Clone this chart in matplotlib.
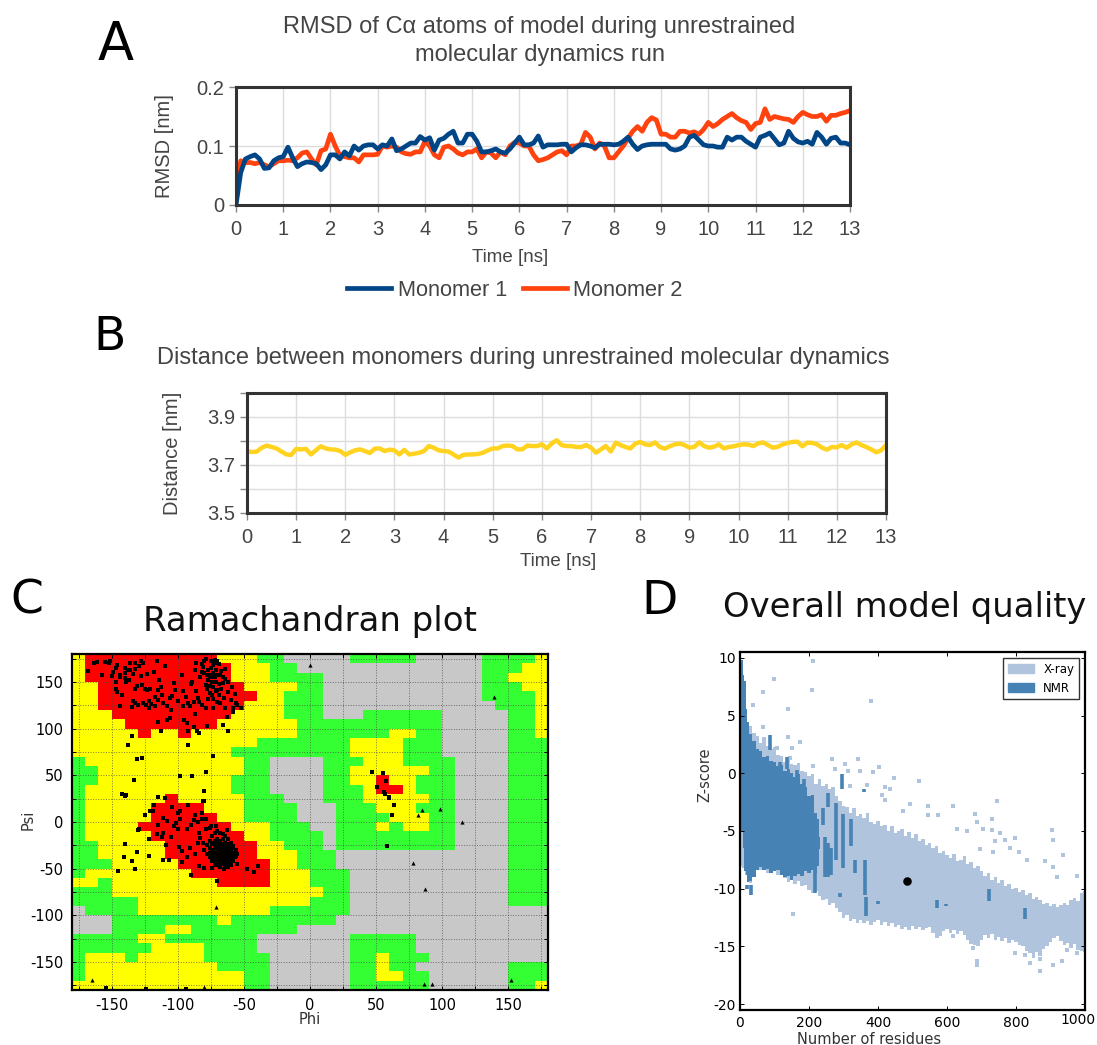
import numpy as np
import matplotlib
matplotlib.use('Agg')
import matplotlib.pyplot as plt
from matplotlib.colors import ListedColormap
from matplotlib.patches import Patch

W, H = 1097, 1045

# panel A, one value every 0.1 ns
monomer1 = [0, .055, .078, .082, .085, .078, .062, .063, .075, .08,
            .082, .098, .08, .065, .07, .073, .072, .07, .06, .068,
            .085, .085, .078, .09, .083, .1, .093, .1, .102, .102,
            .095, .102, .1, .112, .092, .095, .1, .105, .105, .116,
            .11, .114, .093, .11, .113, .12, .125, .105, .105, .12,
            .12, .108, .09, .09, .092, .095, .09, .088, .095, .105,
            .115, .102, .102, .105, .117, .098, .102, .102, .102, .103,
            .103, .09, .097, .102, .102, .1, .097, .103, .103, .103,
            .102, .103, .108, .115, .103, .094, .1, .102, .103, .103,
            .103, .103, .095, .093, .095, .1, .115, .118, .11, .102,
            .1, .1, .098, .098, .115, .11, .115, .115, .108, .103,
            .098, .115, .118, .122, .112, .102, .105, .125, .113, .107,
            .105, .108, .103, .123, .115, .103, .113, .115, .105, .105, .102]
monomer2 = [.02, .075, .072, .072, .07, .072, .068, .065, .07, .075,
            .075, .076, .075, .08, .088, .09, .078, .068, .092, .095,
            .12, .1, .084, .082, .08, .08, .073, .085, .085, .085,
            .086, .1, .098, .1, .098, .09, .087, .086, .09, .09,
            .108, .1, .085, .08, .098, .1, .095, .088, .085, .09,
            .09, .095, .08, .09, .088, .08, .09, .085, .1, .106,
            .105, .1, .1, .085, .075, .077, .08, .085, .09, .092,
            .085, .1, .1, .103, .123, .115, .095, .105, .1, .08,
            .08, .09, .1, .113, .125, .133, .125, .14, .148, .144,
            .12, .12, .115, .115, .125, .125, .122, .124, .12, .128,
            .14, .133, .138, .145, .15, .155, .148, .143, .14, .128,
            .138, .14, .163, .145, .15, .148, .146, .145, .14, .15,
            .157, .153, .15, .15, .153, .142, .152, .152, .155, .157, .16]

# panel B
distance = [3.758, 3.754, 3.756, 3.772, 3.781, 3.775, 3.769, 3.756, 3.744, 3.742,
            3.767, 3.765, 3.767, 3.744, 3.761, 3.778, 3.769, 3.765, 3.764, 3.758,
            3.742, 3.753, 3.761, 3.765, 3.758, 3.75, 3.768, 3.769, 3.758, 3.764,
            3.761, 3.744, 3.763, 3.744, 3.747, 3.751, 3.758, 3.779, 3.772, 3.761,
            3.758, 3.756, 3.744, 3.731, 3.742, 3.744, 3.744, 3.746, 3.751, 3.761,
            3.769, 3.769, 3.779, 3.781, 3.779, 3.765, 3.765, 3.781, 3.779, 3.779,
            3.786, 3.769, 3.79, 3.803, 3.783, 3.779, 3.779, 3.775, 3.775, 3.783,
            3.772, 3.751, 3.765, 3.779, 3.756, 3.793, 3.783, 3.775, 3.769, 3.789,
            3.796, 3.786, 3.783, 3.794, 3.775, 3.768, 3.778, 3.786, 3.789, 3.783,
            3.772, 3.776, 3.794, 3.779, 3.772, 3.776, 3.786, 3.769, 3.775, 3.778,
            3.783, 3.786, 3.785, 3.779, 3.79, 3.794, 3.783, 3.772, 3.776, 3.786,
            3.792, 3.796, 3.797, 3.778, 3.793, 3.792, 3.786, 3.772, 3.764, 3.775,
            3.774, 3.783, 3.772, 3.786, 3.794, 3.783, 3.775, 3.765, 3.753, 3.761, 3.783]

# panel C, regions top row first, run lengths of 10 degree cells
rama_rows = [
    "y1 r10 y3 g2 G5 g5 G5 g4 y1",
    "y1 r11 y3 g2 G14 g3 y2",
    "y1 r11 y3 g4 G12 g2 y3",
    "y2 r11 y4 g2 G12 g3 y2",
    "y2 r12 y2 g3 G12 g4 y1",
    "y2 r11 y3 g3 G13 g3 y1",
    "y3 r9 y4 g3 G3 g6 G5 g2 y1",
    "y4 r7 y6 g11 G5 g2 y1",
    "y5 r1 y2 r1 y8 g7 y2 g2 G5 g2 y1",
    "y14 g7 y4 g3 G5 g3",
    "y12 g9 y4 g3 G5 g3",
    "g1 y12 g2 G4 g3 y3 g4 G4 g3",
    "g2 y11 g2 G4 g2 y6 g2 G4 g3",
    "g2 y10 g3 G4 g2 y2 r1 y2 g3 G4 g3",
    "g1 y11 g3 G4 g3 y1 r2 y1 g3 G4 g3",
    "g1 y6 r1 y5 g3 G3 g3 y5 g2 G4 g3",
    "g1 y5 r4 y3 g4 G3 g3 y3 g3 G4 g3",
    "g1 y5 r5 y2 g4 G3 g4 y3 g2 G4 g3",
    "g1 y4 r7 y3 g3 G2 g3 y1 g1 y2 g2 G4 g3",
    "g1 y5 r7 y2 g4 G1 g9 G4 g3",
    "g2 y5 r7 y2 g3 G1 g9 G4 g3",
    "g2 y5 r7 y3 g3 G13 g3",
    "g3 y5 r7 y2 g3 G13 g3",
    "g1 y8 r6 y3 g3 G12 g3",
    "y2 g1 y8 r4 y3 g3 G12 g3",
    "g3 y16 g2 G12 g3",
    "g5 y13 g3 G12 g3",
    "G1 g4 y10 g6 G15",
    "G3 g8 y1 g8 G16",
    "G3 g4 y2 g8 G19",
    "g5 y2 g7 G7 g5 G10",
    "g6 y4 g4 G7 g5 G10",
    "g1 y3 g1 y5 g5 G6 g2 y1 g3 G9",
    "g1 y10 g4 G6 g2 y1 g2 G7 g3",
    "g1 y12 g2 G6 g2 y2 g2 G6 g3",
    "y13 g2 G6 g6 G6 g2 y1",
]

beta_phi = [-168, -163, -161, -155, -151, -152, -147, -149, -150, -157, -144, -140, -140, -136, -132, -128, -126, -132, -134, -123,
            -118, -116, -110, -97, -87, -82, -82, -79, -73, -147, -147, -146, -142, -144, -134, -132, -135, -130, -126, -124,
            -122, -117, -115, -113, -115, -117, -121, -123, -127, -132, -140, -139, -108, -105, -103, -102, -96, -94, -96, -91,
            -89, -86, -84, -82, -88, -87, -79, -77, -73, -69, -68, -73, -64, -58, -55, -52, -62, -58, -63, -66,
            -62, -78, -84, -85.5, -92, -88, -95, -93, -106, -108, -115, -113, -135, -138, -92, -131, -127, -73, -98, -89,
            -79, -133, -142, -139, -115, -110, -80, -80.5,
            -80, -78, -75, -73, -71, -76, -74, -72, -70, -68, -66, -64, -62, -71, -69, -66, -73, -76, -78, -67,
            -70, -75, -72, -70, -69, -77, -80, -77, -75, -73,
            -146, -144, -138, -137, -131, -129, -125, -122, -120, -114, -112, -111, -106, -100, -92, -90, -85, -83, -81, -76,
            -74, -71, -70, -65, -60, -59, -57, -56, -67, -64, -72, -79, -86, -104, -128, -136]
beta_psi = [162, 170, 171, 171, 173, 170, 165, 161, 156, 157, 155, 165, 160, 170, 170, 172, 170, 164, 159, 159,
            161, 172, 167, 157, 163, 161, 169, 175, 168, 150, 143, 139, 136, 124, 130, 127, 123, 125, 127, 125,
            122, 124, 131, 145, 141, 134, 143, 141, 147, 143, 154, 150, 124, 120, 149, 141, 140, 134, 124, 124,
            150, 140, 129, 125, 129, 116, 122, 132, 132, 136, 127, 122, 122, 122, 125, 122, 139, 118, 112, 104,
            97, 103, 95, 97.5, 98, 102, 109, 106, 111, 109, 107, 98, 92, 82.5, 83, 68, 69, 71, 49, 49,
            54, 45, 30, 28.5, 27, 26, 33, 22,
            160, 157, 165, 160, 163, 155, 150, 155, 157, 158, 155, 153, 150, 150, 148, 149, 145, 146, 142, 143,
            141, 172, 170, 172, 169, 163, 172, 152, 158, 155,
            168, 158, 163, 152, 146, 167, 143, 130, 126, 152, 136, 128, 133, 130, 128, 148, 133, 155, 166, 138,
            136, 140, 129, 133, 131, 145, 137, 128, 162, 164, 174, 147, 170, 135, 156, 163]

alpha_phi = [-140, -115, -110, -118, -104, -92, -81, -121, -119, -125, -100, -98, -82, -111, -108, -87, -79, -82, -85, -88,
             -90, -98, -101, -103, -100, -93, -115, -129, -130, -116, -111, -112, -105, -122, -109, -140, -131, -141, -135, -132,
             -145, -122, -111, -107, -97, -93, -87, -99, -97, -91, -84, -80, -74, -90, -70, -47.5, -42, -39.5, -56, -55,
             -63, -71, -74.5, -76, -79, -84, -83, -84.5, -81,
             -78, -76, -74, -72, -70, -68, -66, -64, -62, -60, -58, -56, -55, -57, -58, -60, -62, -65, -68, -71,
             -74, -76, -78, -80, -72, -70, -68, -66, -64, -62, -74, -72, -70, -68, -66, -64, -62, -60, -60, -62,
             -64, -66, -68, -70, -72, -74, -76, -76, -74, -72, -70, -68, -66, -64, -62, -66, -68, -70, -72, -64,
             -60, -58, -65, -69, -67, -63, -71, -73, -69, -65,
             -73, -71, -69, -67, -65, -63, -61, -59, -75, -73, -71, -69, -67, -65, -63, -61, -59, -75, -73, -71,
             -69, -67, -65, -63, -61, -59, -74, -72, -70, -68, -66, -64, -62, -60, -72, -70, -68, -66, -64, -62]
alpha_psi = [28, 27, 26, 18, 16, 18, 22, 12, 12, 8, 10, 12, 10, 4, 1, 7, 3, 3, -0.5, 2,
             -3, 3, -1, -4, -7, -8, -3, -7, -8.5, -13, -12, -16.5, -16, -18, -25, -24, -32, -37, -41.5, -50,
             -52.5, -36, -41, -41, -43, -38, -34, -26.5, -31, -28, -47, -49, -49, -57, -63, -50.5, -53.5, -47, -36.5, -45,
             -8.6, -4, -4, -6, -8, -12, -17.5, -22, -22,
             -25, -20, -15, -12, -10, -12, -13, -15, -18, -22, -26, -30, -34, -38, -42, -46, -48, -50, -48, -46,
             -42, -38, -34, -30, -20, -18, -20, -18, -22, -24, -24, -26, -24, -26, -24, -28, -30, -30, -36, -36,
             -34, -30, -32, -30, -32, -30, -28, -33, -36, -38, -36, -38, -36, -40, -42, -42, -44, -41, -44, -44,
             -40, -34, -26, -28, -34, -32, -34, -40, -22, -33,
             -22, -22, -25, -28, -27, -26, -27, -28, -31, -30, -29, -31, -30, -31, -34, -33, -33, -35, -35, -34,
             -38, -38, -38, -37, -37, -38, -41, -42, -42, -41, -43, -42, -44, -43, -46, -46, -46, -45, -47, -46]

other_phi = [47, 55, 57.4, 50.6, 56, 57, 60, 60, 63.7, 62, 58, -154, -124, -94]
other_psi = [53.6, 52, 44, 38, 32.5, 30, 27, 25.5, 18, 7, -26, -178, -179, -179]
gly_phi = [0, 139, 85, 98, 82, 115, 78, 87, 86, 92, 152, -71, -165, -80]
gly_psi = [168, 134, 13, 14, 7, 0, -44, -72, -173.6, -173.6, -169, -91, -169.3, -177]

# panel D, envelopes of the point clouds, every 10 residues
xray_n = list(range(0, 1001, 10))
xray_top = [5.5, 5.2, 4.4, 4.1, 3.5, 3.2, 2.6, 3.1, 2.4, 2.1,
            2.3, 1.6, 1.5, 1.0, 1.4, .8, .7, .9, .2, .1,
            -.2, -.1, -.9, -.5, -1.1, -.9, -1.4, -1.2, -2.0, -2.4,
            -2.8, -2.9, -3.4, -3.0, -3.7, -3.5, -3.9, -3.4, -4.2, -4.4,
            -4.1, -4.6, -4.5, -5.0, -4.6, -5.2, -5.0, -4.8, -5.4, -5.1,
            -5.6, -5.3, -5.9, -5.7, -6.2, -6.0, -6.5, -6.3, -6.9, -6.7,
            -7.1, -7.3, -7.0, -7.6, -7.5, -7.2, -7.9, -7.7, -8.2, -8.0,
            -8.5, -8.9, -8.6, -9.2, -9.0, -9.5, -9.2, -9.8, -9.6, -10.0,
            -9.9, -10.3, -10.1, -10.5, -10.4, -10.9, -10.7, -11.0, -11.3, -11.2,
            -11.5, -11.3, -11.6, -11.4, -11.2, -11.4, -11.0, -10.8, -11.1, -10.4, -10.2]
xray_bot = [-8, -8.2, -8.8, -9.5, -8.6, -8.2, -8.4, -8.3, -8.6, -8.4,
            -8.5, -8.8, -8.7, -9.1, -9.4, -9.2, -9.6, -9.3, -9.8, -9.7,
            -10.1, -10.4, -10.2, -10.6, -11.0, -10.9, -11.4, -11.2, -11.7, -12.0,
            -12.5, -12.3, -12.8, -12.6, -13.0, -12.7, -13.0, -12.8, -13.1, -12.9,
            -12.7, -13.1, -12.9, -13.2, -13.0, -13.3, -13.1, -13.5, -13.3, -13.6,
            -13.2, -13.5, -13.3, -13.6, -13.4, -13.3, -13.8, -14.3, -14.1, -13.7,
            -13.5, -13.8, -13.6, -13.9, -13.7, -14.0, -14.4, -14.8, -14.9, -15.0,
            -14.4, -14.0, -14.3, -13.9, -14.4, -14.2, -14.5, -14.3, -14.7, -14.4,
            -14.6, -14.9, -15.0, -15.4, -15.6, -16.0, -15.5, -15.8, -15.2, -15.0,
            -14.6, -14.3, -14.1, -14.5, -14.9, -14.7, -15.1, -14.8, -15.3, -15.4, -15.5]
nmr_n = [2, 6, 10, 14, 18, 24, 30, 40, 50, 60, 70, 80, 90, 100, 110, 120, 130, 140, 150, 160, 170, 180, 190, 200, 210, 220, 226, 232]
nmr_top = [10.4, 9.8, 8.5, 8, 5.6, 4.4, 3.4, 2.8, 2.1, 1.9, 1.4, 1.5, 1.1, 1, .6, .7, .2, .4, 0, -.3, -.1, -.9, -1.2, -2, -1.9, -3.4, -4, -5.5]
nmr_bot = [-3, -5, -6.5, -8.5, -8.8, -9.4, -9.3, -9, -8.4, -8.1, -8.4, -8.3, -8.6, -8.5, -8.4, -8.8, -9, -8.9, -9.2, -8.9, -8.7, -8.9, -8.5, -8.6, -8.4, -8.6, -8, -6.6]
bar_n = [87, 164, 185, 208, 242, 256, 278, 295, 298, 321, 246, 255, 265, 216, 362, 365, 333, 360, 290, 401, 570, 597, 721, 825, 31, 19, 135, 116]
bar_lo = [2, -2, -2.3, -3.5, -4.5, -2.9, -7.5, -1.4, -8.2, -6.3, -9, -9, -8.8, -10.4, -10.5, -12.4, -8.6, -1.6, -10.7, -11.3, -11.7, -11.5, -11.1, -12.6, -10.5, -10, .4, -.9]
bar_hi = [3.3, .3, -.5, -2, -3, -1.7, -2.6, -.1, -3.5, -4, -5.5, -6, -6.5, -8.4, -7.5, -10.7, -7.5, -1.4, -10.4, -11.1, -11, -11.3, -10, -11.7, -9.7, -9.7, 1.4, 1]
stray_n = [213, 99, 208, 68, 381, 140, 39, 66, 140, 174, 152, 145, 106, 266, 343, 304, 213, 275, 314, 348, 386, 404, 446, 519, 319, 367, 420, 435, 411, 420,
           493, 546, 618, 744, 681, 729, 686, 546, 575, 473, 628, 657, 705, 729, 754, 768, 797, 739, 903, 908, 937, 810, 831, 884, 908, 918, 976, 783, 696, 734,
           155, 797, 826, 841, 870, 870, 908, 932, 686, 686, 976, 947, 570, 618, 676]
stray_z = [9.7, 8.2, 7.2, 7, 6.3, 5.6, 5.9, 4, 3.1, 2.7, 2.2, 1.3, 2.2, 1.2, 1.2, .8, .6, .4, .2, .2, .1, .5, -.4, -.7, -1.1, -1, -1.2, -1.4, -1.9, -2.3,
           -2.7, -2.8, -2.8, -2.4, -3.5, -4, -4.2, -3.6, -3.6, -3.3, -4.8, -5, -4.8, -4.9, -5.2, -5.8, -5.6, -5.9, -4.9, -5.8, -7.1, -6.8, -7.5, -7.6, -8.1, -9, -8.9, -6.5, -6.6, -6.8,
           -12.2, -15.6, -15.7, -16.4, -16.1, -17.1, -16.6, -16.3, -16.3, -16.6, -15.6, -15.3, -14.1, -14.1, -15.1]
model_n = [485]
model_z = [-9.3]


def add_axes(fig, left, top, right, bottom):
    return fig.add_axes([left / W, 1 - bottom / H, (right - left) / W, (bottom - top) / H])


def put(fig, x, y, s, **kw):
    kw.setdefault('ha', 'center')
    kw.setdefault('va', 'center')
    fig.text(x / W, 1 - y / H, s, **kw)


def style_dynamics(ax):
    for spine in ax.spines.values():
        spine.set_linewidth(2.2)
        spine.set_color('#333333')
    ax.set_xlim(0, 13)
    ax.set_xticks(range(14))
    ax.tick_params(axis='both', which='both', labelsize=14.5, labelcolor='#444444', color='#888888', length=5, width=1)
    ax.tick_params(axis='x', pad=6)
    ax.grid(True, which='both', color='#dcdcdc', lw=1)
    ax.set_axisbelow(True)


plt.rcParams['axes.unicode_minus'] = False
fig = plt.figure(figsize=(W / 100, H / 100), dpi=100)
sans = 'Liberation Sans'

# A
ax = add_axes(fig, 236, 87, 850, 205)
times = np.linspace(0, 13, len(monomer1))
l2, = ax.plot(times, monomer2, color='#ff420e', lw=3.4)
l1, = ax.plot(times, monomer1, color='#004586', lw=3.4)
style_dynamics(ax)
ax.set_ylim(0, .2)
ax.set_yticks([0, .1, .2])
ax.set_yticklabels(['0', '0.1', '0.2'])
for t in ax.get_xticklabels() + ax.get_yticklabels():
    t.set_family(sans)
put(fig, 165, 146, 'RMSD [nm]', family=sans, size=14.5, color='#444444', rotation=90)
put(fig, 510, 258, 'Time [ns]', family=sans, size=13.5, color='#444444')
put(fig, 539, 27, 'RMSD of C\u03b1 atoms of model during unrestrained', family=sans, size=17, color='#444444')
put(fig, 540, 55, 'molecular dynamics run', family=sans, size=17, color='#444444')
fig.legend([l1, l2], ['Monomer 1', 'Monomer 2'], loc='center', bbox_to_anchor=(515 / W, 1 - 290 / H), ncol=2, frameon=False,
           prop={'family': sans, 'size': 15.7}, labelcolor='#444444', handlelength=2.0, handletextpad=.3, columnspacing=.75)

# B
ax = add_axes(fig, 247, 393, 886, 513)
ax.plot(np.linspace(0, 13, len(distance)), distance, color='#ffd320', lw=3.2)
style_dynamics(ax)
ax.set_ylim(3.5, 4.0)
ax.set_yticks([3.5, 3.7, 3.9])
ax.set_yticks([3.6, 3.8, 4.0], minor=True)
for t in ax.get_xticklabels() + ax.get_yticklabels():
    t.set_family(sans)
put(fig, 173, 453, 'Distance [nm]', family=sans, size=14.5, color='#444444', rotation=90)
put(fig, 558, 561, 'Time [ns]', family=sans, size=13.5, color='#444444')
put(fig, 523, 358, 'Distance between monomers during unrestrained molecular dynamics', family=sans, size=17, color='#444444')

# C
ax = add_axes(fig, 72, 654, 548, 990)
codes = {'G': 0, 'g': 1, 'y': 2, 'r': 3}
cells = []
for row in rama_rows:
    vals = []
    for run in row.split():
        vals += [codes[run[0]]] * int(run[1:])
    cells.append(vals)
ax.imshow(cells, cmap=ListedColormap(['#c8c8c8', '#33ff33', '#ffff00', '#ff0000']), vmin=0, vmax=3,
          extent=[-180, 180, -180, 180], aspect='auto', interpolation='nearest')
ax.set_xticks(np.arange(-175, 176, 25), minor=True)
ax.set_yticks(np.arange(-175, 176, 25), minor=True)
ax.set_xticks(np.arange(-150, 151, 50))
ax.set_yticks(np.arange(-150, 151, 50))
ax.grid(True, which='both', color='#444444', ls=':', lw=.7, alpha=.7)
ax.scatter(beta_phi + alpha_phi + other_phi, beta_psi + alpha_psi + other_psi, marker='s', s=11, color='black', lw=0, zorder=3, clip_on=False)
ax.scatter(gly_phi, gly_psi, marker='^', s=9, color='black', lw=0, zorder=3)
ax.tick_params(axis='both', which='both', labelsize=10.5, length=3, width=.7, direction='in', pad=6)
ax.tick_params(top=True, right=True, which='both')
for spine in ax.spines.values():
    spine.set_linewidth(1.6)
ax.set_xlim(-180, 180)
ax.set_ylim(-180, 180)
put(fig, 310, 1020, 'Phi', size=10.5, color='#333333')
put(fig, 28, 820, 'Psi', size=10.5, color='#333333', rotation=90)
put(fig, 310, 622, 'Ramachandran plot', size=24.5, color='#111111')

# D
ax = add_axes(fig, 740, 652, 1085, 1010)
ax.fill_between(xray_n, xray_bot, xray_top, step='mid', color='#b0c4de', lw=0)
ax.scatter(stray_n, stray_z, marker='s', s=5, color='#b0c4de', lw=0)
ax.fill_between(nmr_n, nmr_bot, nmr_top, step='mid', color='#4682b4', lw=0)
ax.vlines(bar_n, bar_lo, bar_hi, color='#4682b4', lw=2.6)
ax.scatter(model_n, model_z, marker='o', s=38, color='black', lw=0, zorder=4)
ax.set_xlim(0, 1000)
ax.set_ylim(-20.5, 10.5)
ax.set_xticks(range(0, 1001, 200))
ax.set_xticklabels(['0', '200', '400', '600', '800', ''])
ax.set_yticks(range(-20, 11, 5))
ax.tick_params(axis='both', labelsize=10, length=3, width=.7, direction='in', pad=3)
ax.tick_params(axis='x', pad=4)
ax.tick_params(top=True, right=True)
for spine in ax.spines.values():
    spine.set_linewidth(1.6)
ax.legend(handles=[Patch(color='#b0c4de', label='X-ray'), Patch(color='#4682b4', label='NMR')], loc='upper right',
          fontsize=8.5, fancybox=False, edgecolor='#333333', framealpha=1, handlelength=2.2, borderaxespad=.5)
put(fig, 1078, 1020, '1000', size=10, clip_on=False)
put(fig, 869, 1039, 'Number of residues', size=10.5, color='#333333')
put(fig, 705, 775, 'Z-score', size=10.5, color='#333333', rotation=90)
put(fig, 905, 607, 'Overall model quality', size=24.4, color='#111111')

# panel letters
put(fig, 116, 45, 'A', size=38, color='black')
put(fig, 110, 338, 'B', size=34, color='black')
put(fig, 27, 601, 'C', size=34, color='black')
put(fig, 660, 601, 'D', size=34, color='black')

fig.savefig('out.png', dpi=100)
